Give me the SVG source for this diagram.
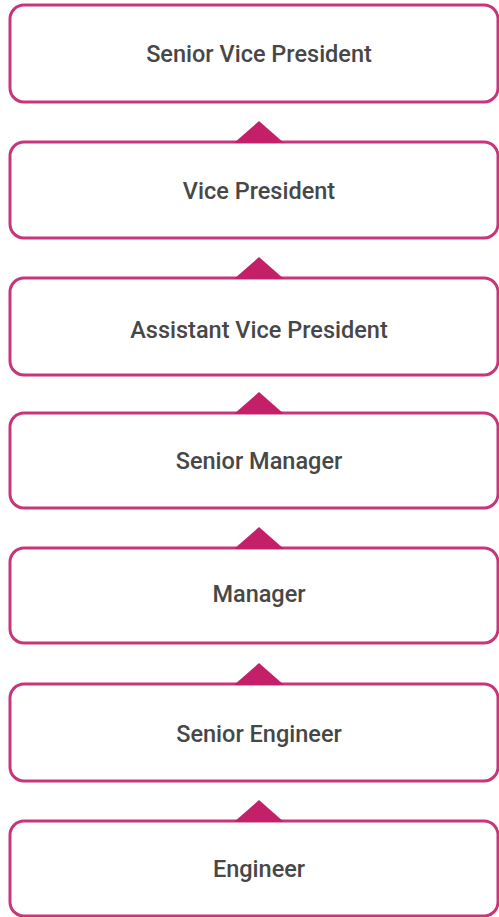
<svg xmlns="http://www.w3.org/2000/svg" width="499" height="917" viewBox="0 0 499 917">
<style>
.box{fill:#fff;stroke:#c9357b;stroke-width:3}
.lbl{font-family:Roboto,"Liberation Sans",sans-serif;font-weight:500;font-size:23.5px;fill:#474747;text-anchor:middle}
.tri{fill:#c4206a}
</style>
<rect width="499" height="917" fill="#fff"/>
<g id="n1"><rect class="box" x="10" y="5" width="488" height="97" rx="14"/><text class="lbl" x="259" y="62">Senior Vice President</text></g>
<g id="n2"><rect class="box" x="10" y="142" width="488" height="96" rx="14"/><text class="lbl" x="259" y="199">Vice President</text></g>
<g id="n3"><rect class="box" x="10" y="278" width="488" height="97" rx="14"/><text class="lbl" x="259" y="338">Assistant Vice President</text></g>
<g id="n4"><rect class="box" x="10" y="413" width="488" height="95" rx="14"/><text class="lbl" x="259" y="469">Senior Manager</text></g>
<g id="n5"><rect class="box" x="10" y="548" width="488" height="95" rx="14"/><text class="lbl" x="259" y="602">Manager</text></g>
<g id="n6"><rect class="box" x="10" y="684" width="488" height="97" rx="14"/><text class="lbl" x="259" y="742">Senior Engineer</text></g>
<g id="n7"><rect class="box" x="10" y="821" width="488" height="95" rx="14"/><text class="lbl" x="259" y="877">Engineer</text></g>
<g id="connectors">
<polygon class="tri" points="234,143 259,121 284,143"/>
<polygon class="tri" points="234,279 259,257 284,279"/>
<polygon class="tri" points="234,414 259,392 284,414"/>
<polygon class="tri" points="234,549 259,527 284,549"/>
<polygon class="tri" points="234,685 259,663 284,685"/>
<polygon class="tri" points="234,822 259,800 284,822"/>
</g>
</svg>
